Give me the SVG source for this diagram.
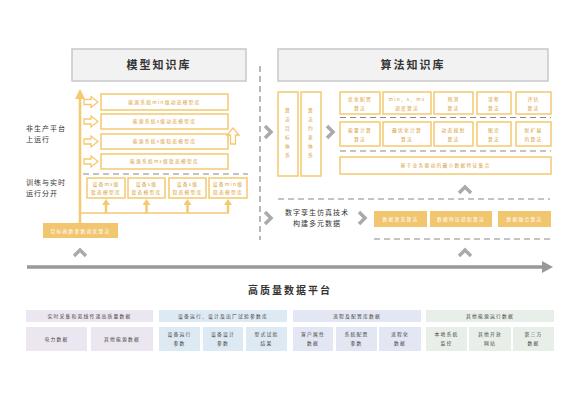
<svg xmlns="http://www.w3.org/2000/svg" width="580" height="400" viewBox="0 0 580 400">
<style>
text{font-family:"Noto Sans CJK SC","Liberation Sans",sans-serif;}
.hdr{fill:#f2f2f2;stroke:#c8c8c8;stroke-width:1.5}
.hdrt{font-size:11px;font-weight:bold;fill:#333;letter-spacing:2px;text-anchor:middle}
.ob{fill:#fff;stroke:#f5c96f;stroke-width:1.5}
.ot{font-size:4.8px;fill:#d9a035;text-anchor:middle;letter-spacing:1.2px}
.fb{fill:#f1c66f}
.ft{font-size:4.8px;fill:#fff;text-anchor:middle;letter-spacing:1.2px}
.dash{stroke:#888;stroke-width:1.2;stroke-dasharray:6,4;fill:none}
.chev{fill:none;stroke:#aaa;stroke-width:3.5}
.lbl{font-size:7px;fill:#333;letter-spacing:1px}
.bt{font-size:4.8px;fill:#444;text-anchor:middle;letter-spacing:1.2px}
.hollow{fill:#fff;stroke:#f5c96f;stroke-width:1.3}
.ya{stroke:#f5c96f;stroke-width:2.5}
</style>
<defs>
<marker id="ah" markerWidth="4" markerHeight="4" refX="2" refY="2" orient="auto" markerUnits="strokeWidth"><path d="M0,0 L4,2 L0,4 z" fill="#f5c96f"/></marker>
</defs>

<g id="model-kb">
<rect class="hdr" x="72" y="49" width="174" height="32"/>
<text class="hdrt" x="159" y="69">模型知识库</text>
</g>
<g id="algo-kb">
<rect class="hdr" x="278" y="49" width="270" height="32"/>
<text class="hdrt" x="413" y="69">算法知识库</text>
</g>

<g id="left-labels">
<text class="lbl" x="26" y="131">非生产平台</text>
<text class="lbl" x="26" y="142">上运行</text>
<text class="lbl" x="26" y="185">训练与实时</text>
<text class="lbl" x="26" y="196">运行分开</text>
</g>

<g id="model-libs">
<rect class="ob" x="101" y="94" width="127" height="16"/>
<text class="ot" x="164.5" y="103.8">能源系统min级动态模型库</text>
<rect class="ob" x="101" y="114" width="127" height="15"/>
<text class="ot" x="164.5" y="123.3">能源系统s级动态模型库</text>
<rect class="ob" x="101" y="134" width="127" height="15"/>
<text class="ot" x="164.5" y="143.3">能源系统s级稳态模型库</text>
<rect class="ob" x="101" y="154" width="127" height="15"/>
<text class="ot" x="164.5" y="163.3">能源系统ms级暂态模型库</text>
<path class="hollow" d="M84,99.5 h7 v-3 l7,5.5 l-7,5.5 v-3 h-7 z"/>
<path class="hollow" d="M84,119 h7 v-3 l7,5.5 l-7,5.5 v-3 h-7 z"/>
<path class="hollow" d="M84,139 h7 v-3 l7,5.5 l-7,5.5 v-3 h-7 z"/>
<path class="hollow" d="M84,159 h7 v-3 l7,5.5 l-7,5.5 v-3 h-7 z"/>
<path class="hollow" d="M230.5,144 v-9 h-3.5 l6,-7 l6,7 h-3.5 v9 z"/>
</g>

<g id="device-libs">
<rect class="ob" x="87" y="178" width="38" height="20"/>
<text class="ot" x="106" y="186">设备ms级</text>
<text class="ot" x="106" y="194">暂态模型库</text>
<rect class="ob" x="128" y="178" width="37" height="20"/>
<text class="ot" x="146.5" y="186">设备s级</text>
<text class="ot" x="146.5" y="194">暂态模型库</text>
<rect class="ob" x="169" y="178" width="37" height="20"/>
<text class="ot" x="187.5" y="186">设备s级</text>
<text class="ot" x="187.5" y="194">稳态模型库</text>
<rect class="ob" x="209" y="178" width="38" height="20"/>
<text class="ot" x="228" y="186">设备min级</text>
<text class="ot" x="228" y="194">稳态模型库</text>
</g>

<g id="target-func">
<rect class="fb" x="43" y="223" width="75" height="15"/>
<text class="ft" x="80.5" y="232.5">目标函数参数调优算法</text>
</g>

<g id="algo-systems">
<rect class="ob" x="278" y="92" width="20" height="84"/>
<rect class="ob" x="301" y="92" width="20" height="84"/>
<g class="ot">
<text x="288" y="112">算</text><text x="288" y="121">法</text><text x="288" y="130">目</text><text x="288" y="139">标</text><text x="288" y="148">体</text><text x="288" y="157">系</text>
<text x="311" y="112">算</text><text x="311" y="121">法</text><text x="311" y="130">约</text><text x="311" y="139">束</text><text x="311" y="148">体</text><text x="311" y="157">系</text>
</g>
</g>

<g id="algos-row1">
<rect class="ob" x="340" y="92" width="40" height="22"/>
<text class="ot" x="360" y="100.5">优化配置</text><text class="ot" x="360" y="109.5">算法</text>
<rect class="ob" x="383" y="92" width="48" height="22"/>
<text class="ot" x="407" y="100.5">min、s、ms</text><text class="ot" x="407" y="109.5">调度算法</text>
<rect class="ob" x="434" y="92" width="39" height="22"/>
<text class="ot" x="453.5" y="100.5">预测</text><text class="ot" x="453.5" y="109.5">算法</text>
<rect class="ob" x="477" y="92" width="34" height="22"/>
<text class="ot" x="494" y="100.5">诊断</text><text class="ot" x="494" y="109.5">算法</text>
<rect class="ob" x="516" y="92" width="35" height="22"/>
<text class="ot" x="533.5" y="100.5">评估</text><text class="ot" x="533.5" y="109.5">算法</text>
</g>

<g id="algos-row2">
<rect class="ob" x="340" y="122" width="40" height="24"/>
<text class="ot" x="360" y="131.5">能量计算</text><text class="ot" x="360" y="140.5">算法</text>
<rect class="ob" x="383" y="122" width="48" height="24"/>
<text class="ot" x="407" y="131.5">最优化计算</text><text class="ot" x="407" y="140.5">算法</text>
<rect class="ob" x="434" y="122" width="39" height="24"/>
<text class="ot" x="453.5" y="131.5">动态规划</text><text class="ot" x="453.5" y="140.5">算法</text>
<rect class="ob" x="477" y="122" width="34" height="24"/>
<text class="ot" x="494" y="131.5">图论</text><text class="ot" x="494" y="140.5">算法</text>
<rect class="ob" x="516" y="122" width="35" height="24"/>
<text class="ot" x="533.5" y="131.5">新扩展</text><text class="ot" x="533.5" y="140.5">的算法</text>
</g>

<g id="min-feature-set">
<rect class="ob" x="340" y="157" width="211" height="17"/>
<text class="ot" x="445.5" y="167.3">基于业务驱动的最小数据特征集合</text>
</g>

<g id="digital-twin">
<text class="lbl" x="317" y="215" text-anchor="middle">数字孪生仿真技术</text>
<text class="lbl" x="317" y="226" text-anchor="middle">构建多元数据</text>
</g>

<g id="data-algos">
<rect class="fb" x="374" y="211" width="53" height="16"/>
<text class="ft" x="400.5" y="220.8">数据清洗算法</text>
<rect class="fb" x="430" y="211" width="62" height="16"/>
<text class="ft" x="461" y="220.8">数据特征提取算法</text>
<rect class="fb" x="498" y="211" width="53" height="16"/>
<text class="ft" x="524.5" y="220.8">数据融合算法</text>
</g>

<g id="connectors">
<line class="dash" x1="260" y1="66" x2="260" y2="240"/>
<line class="dash" x1="83" y1="174" x2="248" y2="174"/>
<line class="dash" x1="340" y1="117.5" x2="551" y2="117.5"/>
<line class="dash" x1="340" y1="151" x2="551" y2="151"/>
<line class="dash" x1="278" y1="199" x2="550" y2="199"/>
<line class="dash" x1="374" y1="239" x2="551" y2="239"/>
<line class="ya" x1="80" y1="223" x2="80" y2="94" marker-end="url(#ah)"/>
<line x1="80" y1="213" x2="229" y2="213" stroke="#f5c96f" stroke-width="1.5"/>
<line class="ya" x1="106" y1="213" x2="106" y2="204"/>
<line class="ya" x1="146.5" y1="213" x2="146.5" y2="204"/>
<line class="ya" x1="187.5" y1="213" x2="187.5" y2="204"/>
<line class="ya" x1="228" y1="213" x2="228" y2="204"/>
<path d="M102,205 L106,199 L110,205 z M142.5,205 L146.5,199 L150.5,205 z M183.5,205 L187.5,199 L191.5,205 z M224,205 L228,199 L232,205 z" fill="#f5c96f"/>
<polyline class="chev" points="74,256 80,250 86,256"/>
<polyline class="chev" points="265,126 271,132 265,138"/>
<polyline class="chev" points="327,126 333,132 327,138"/>
<polyline class="chev" points="459,193 465,187 471,193"/>
<polyline class="chev" points="265,212 271,218 265,224"/>
<polyline class="chev" points="359,212 365,218 359,224"/>
<polyline class="chev" points="459,256 465,250 471,256"/>
<line x1="27" y1="267" x2="545" y2="267" stroke="#999" stroke-width="3.5"/>
<path d="M542,261 L553,267 L542,273 z" fill="#999"/>
</g>

<g id="platform-title">
<text x="290" y="294" text-anchor="middle" font-size="10" font-weight="bold" fill="#333" letter-spacing="2">高质量数据平台</text>
</g>

<g id="group-power">
<rect x="26" y="310" width="127" height="12" fill="#ece6f1"/>
<text class="bt" x="89.5" y="317.8">实时采集和离线传递高质量数据</text>
<rect x="26" y="327" width="61" height="24" fill="#ece6f1"/>
<text class="bt" x="56.5" y="340.5">电力数据</text>
<rect x="91" y="327" width="62" height="24" fill="#ece6f1"/>
<text class="bt" x="122" y="340.5">其他能源数据</text>
</g>
<g id="group-device">
<rect x="159" y="310" width="128" height="12" fill="#dde9f3"/>
<text class="bt" x="223" y="317.8">设备运行、设计及出厂试验参数库</text>
<rect x="159" y="327" width="41" height="24" fill="#dde9f3"/>
<text class="bt" x="179.5" y="335.5">设备运行</text><text class="bt" x="179.5" y="344.5">参数</text>
<rect x="203" y="327" width="40" height="24" fill="#dde9f3"/>
<text class="bt" x="223" y="335.5">设备设计</text><text class="bt" x="223" y="344.5">参数</text>
<rect x="246" y="327" width="41" height="24" fill="#dde9f3"/>
<text class="bt" x="266.5" y="335.5">型式试验</text><text class="bt" x="266.5" y="344.5">结果</text>
</g>
<g id="group-process">
<rect x="293" y="310" width="128" height="12" fill="#e3e6f3"/>
<text class="bt" x="357" y="317.8">流程及配置库数据</text>
<rect x="293" y="327" width="40" height="24" fill="#e3e6f3"/>
<text class="bt" x="313" y="335.5">客户属性</text><text class="bt" x="313" y="344.5">数据</text>
<rect x="336" y="327" width="41" height="24" fill="#e3e6f3"/>
<text class="bt" x="356.5" y="335.5">系统配置</text><text class="bt" x="356.5" y="344.5">参数</text>
<rect x="379" y="327" width="42" height="24" fill="#e3e6f3"/>
<text class="bt" x="400" y="335.5">流程化</text><text class="bt" x="400" y="344.5">数据</text>
</g>
<g id="group-other">
<rect x="426" y="310" width="128" height="12" fill="#e8efe8"/>
<text class="bt" x="490" y="317.8">其他能源运行数据</text>
<rect x="426" y="327" width="41" height="24" fill="#e8efe8"/>
<text class="bt" x="446.5" y="335.5">本地系统</text><text class="bt" x="446.5" y="344.5">监控</text>
<rect x="469" y="327" width="42" height="24" fill="#e8efe8"/>
<text class="bt" x="490" y="335.5">其他开放</text><text class="bt" x="490" y="344.5">网站</text>
<rect x="513" y="327" width="41" height="24" fill="#e8efe8"/>
<text class="bt" x="533.5" y="335.5">第三方</text><text class="bt" x="533.5" y="344.5">数据</text>
</g>
</svg>
